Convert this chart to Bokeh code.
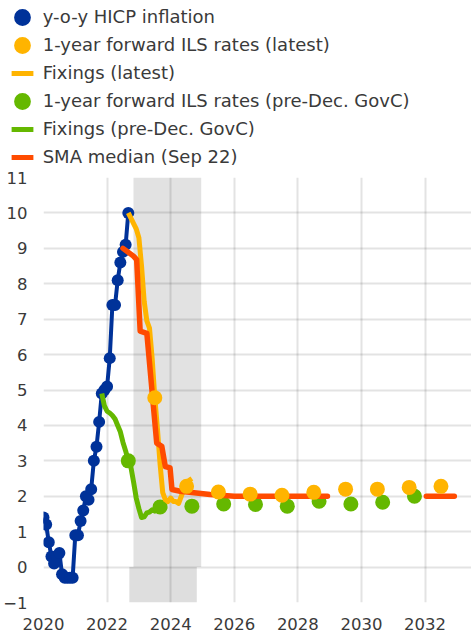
from bokeh.plotting import figure
from bokeh.models import Range1d, FixedTicker, Legend, LegendItem
from bokeh.embed import file_html
from bokeh.resources import INLINE

# ---------------- data ----------------
def dec(ym):
    y, m = ym.split("-")
    return int(y) + (int(m) - 1) / 12.0

# y-o-y HICP inflation, monthly from 2020-01
hicp_start = "2020-01"
hicp = [1.4, 1.2, 0.7, 0.3, 0.1, 0.3, 0.4, -0.2, -0.3, -0.3, -0.3, -0.3,
        0.9, 0.9, 1.3, 1.6, 2.0, 1.9, 2.2, 3.0, 3.4, 4.1, 4.9, 5.0,
        5.1, 5.9, 7.4, 7.4, 8.1, 8.6, 8.9, 9.1, 10.0]

# Fixings (pre-Dec. GovC), monthly from 2021-11
green_fix_start = "2021-11"
green_fix = [4.9, 4.55, 4.4, 4.35, 4.28, 4.18, 4.0, 3.82, 3.52, 3.28, 3.0, 2.82,
             2.4, 1.95, 1.65, 1.4, 1.42, 1.53, 1.55, 1.62, 1.58, 1.64, 1.7]

# Fixings (latest), monthly from 2022-09
orange_fix_start = "2022-09"
orange_fix = [10.0, 9.85, 9.7, 9.55, 9.3, 8.5, 7.5, 6.95, 6.75, 5.9, 4.8, 3.9,
              2.9, 2.1, 1.9, 1.85, 1.95, 1.85, 1.85, 1.8, 2.0, 2.2, 2.35, 2.45, 2.5]

# 1-year forward ILS rates (pre-Dec. GovC)
green_dot_dates = ["2022-09", "2023-09", "2024-09", "2025-09", "2026-09",
                   "2027-09", "2028-09", "2029-09", "2030-09", "2031-09"]
green_dot = [3.0, 1.7, 1.72, 1.78, 1.77, 1.72, 1.86, 1.78, 1.83, 2.0]

# 1-year forward ILS rates (latest)
orange_dot_dates = ["2023-07", "2024-07", "2025-07", "2026-07", "2027-07",
                    "2028-07", "2029-07", "2030-07", "2031-07", "2032-07"]
orange_dot = [4.78, 2.28, 2.12, 2.06, 2.03, 2.11, 2.2, 2.2, 2.25, 2.28]

# SMA median (Sep 22) path, decimal years (NaN = gap)
sma_x = [2022.5, 2022.83, 2022.93, 2023.04, 2023.25, 2023.56, 2023.72, 2023.83,
         2023.98, 2024.04, 2024.30, 2025.24, 2026.0, 2028.93, float("nan"),
         2032.04, 2032.92]
sma = [9.0, 8.78, 8.68, 6.66, 6.6, 3.5, 3.41, 2.84, 2.8, 2.19, 2.14, 2.05, 2.0,
       2.0, float("nan"), 2.0, 2.0]

# shaded periods
shade_left = [2022.83, 2022.70]
shade_right = [2024.96, 2024.82]
shade_bottom = [0, -1]
shade_top = [11, 0]

x_ticks = [2020, 2022, 2024, 2026, 2028, 2030, 2032]
y_ticks = list(range(-1, 12))

labels = ["y-o-y HICP inflation", "1-year forward ILS rates (latest)",
          "Fixings (latest)", "1-year forward ILS rates (pre-Dec. GovC)",
          "Fixings (pre-Dec. GovC)", "SMA median (Sep 22)"]

# ---------------- derived x positions ----------------
def monthly(start, n):
    y0 = dec(start)
    return [y0 + i / 12.0 for i in range(n)]

hicp_x = monthly(hicp_start, len(hicp))
green_fix_x = monthly(green_fix_start, len(green_fix))
orange_fix_x = monthly(orange_fix_start, len(orange_fix))
green_dot_x = [dec(d) for d in green_dot_dates]
orange_dot_x = [dec(d) for d in orange_dot_dates]

BLUE = "#003299"
ORANGE = "#FFB400"
GREEN = "#65B800"
RED = "#FF4B00"
TXT = "#3a3a3a"
FONT = "DejaVu Sans"

W = 471
LEG_H = 168
MAIN_H = 464
LEFT = 43

# ---------------- main chart ----------------
p = figure(width=W, height=MAIN_H, output_backend="svg", toolbar_location=None,
           x_range=Range1d(2020, 2033.46), y_range=Range1d(-1, 11),
           min_border_left=LEFT, min_border_right=0, min_border_top=9,
           min_border_bottom=30)
p.outline_line_color = None
p.background_fill_color = "white"
p.border_fill_color = "white"

p.quad(left=shade_left[:1], right=shade_right[:1], bottom=shade_bottom[:1], top=shade_top[:1],
       fill_color="#e2e2e2", line_color=None, level="image")
p.quad(left=shade_left[1:], right=shade_right[1:], bottom=shade_bottom[1:], top=shade_top[1:],
       fill_color="#dedede", line_color=None, level="image")

for ax in (p.xaxis[0], p.yaxis[0]):
    ax.axis_line_color = None
    ax.major_tick_line_color = None
    ax.minor_tick_line_color = None
    ax.major_tick_out = 0
    ax.major_tick_in = 0
    ax.major_label_text_font = FONT
    ax.major_label_text_font_size = "16.5px"
    ax.major_label_text_color = TXT
p.xaxis.ticker = FixedTicker(ticks=x_ticks)
p.yaxis.ticker = FixedTicker(ticks=y_ticks)
p.xaxis.major_label_standoff = 15
p.yaxis.major_label_standoff = 16
p.xgrid.ticker = FixedTicker(ticks=x_ticks)
p.ygrid.ticker = FixedTicker(ticks=y_ticks)
for g in (p.xgrid[0], p.ygrid[0]):
    g.grid_line_color = "#000000"
    g.grid_line_alpha = 0.11
    g.grid_line_width = 2

p.line(hicp_x, hicp, line_color=BLUE, line_width=4)
p.scatter(hicp_x, hicp, size=12, fill_color=BLUE, line_color=None)
p.line(green_fix_x, green_fix, line_color=GREEN, line_width=5, line_join="round")
p.scatter(green_dot_x, green_dot, size=15, fill_color=GREEN, line_color=None)
p.line(orange_fix_x, orange_fix, line_color=ORANGE, line_width=5, line_join="round")
p.line(sma_x, sma, line_color=RED, line_width=5.5, line_cap="round", line_join="round")
p.scatter(orange_dot_x, orange_dot, size=15, fill_color=ORANGE, line_color=None)

# ---------------- legend panel (separate root, frame spans whole canvas) ----------------
lg = figure(width=W, height=LEG_H, output_backend="svg", toolbar_location=None,
            x_range=Range1d(0, 1), y_range=Range1d(0, 1),
            x_axis_type=None, y_axis_type=None,
            min_border_left=0, min_border_right=0, min_border_top=0,
            min_border_bottom=0)
lg.grid.visible = False
lg.outline_line_color = None
lg.background_fill_color = "white"
lg.border_fill_color = "white"

k_blue = lg.scatter(hicp_x, hicp, size=12, fill_color=BLUE, line_color=None, visible=False)
k_odot = lg.scatter(orange_dot_x, orange_dot, size=15, fill_color=ORANGE, line_color=None, visible=False)
k_odash = lg.scatter(orange_fix_x, orange_fix, marker="dash", size=17, line_color=ORANGE,
                     line_width=5, line_cap="square", visible=False)
k_gdot = lg.scatter(green_dot_x, green_dot, size=15, fill_color=GREEN, line_color=None, visible=False)
k_gdash = lg.scatter(green_fix_x, green_fix, marker="dash", size=17, line_color=GREEN,
                     line_width=5, line_cap="square", visible=False)
k_rdash = lg.scatter(sma_x, sma, marker="dash", size=17, line_color=RED,
                     line_width=5, line_cap="square", visible=False)
keys = [k_blue, k_odot, k_odash, k_gdot, k_gdash, k_rdash]

GLYPH = 42
for k, (lab, rend) in enumerate(zip(labels, keys)):
    centre = 16.7 + 28 * k                     # row centre, px from top of legend panel
    vy = LEG_H - GLYPH - (centre - GLYPH / 2)  # distance of box bottom above frame bottom
    lg.add_layout(Legend(
        items=[LegendItem(label=lab, renderers=[rend])],
        location=(0.7, vy), orientation="vertical",
        glyph_width=GLYPH, glyph_height=GLYPH, spacing=0, padding=0, margin=0,
        label_standoff=0, border_line_color=None, background_fill_alpha=0,
        label_text_font=FONT, label_text_font_size="18px", label_text_color=TXT,
    ))

open("out.html", "w").write(file_html([lg, p], INLINE))
